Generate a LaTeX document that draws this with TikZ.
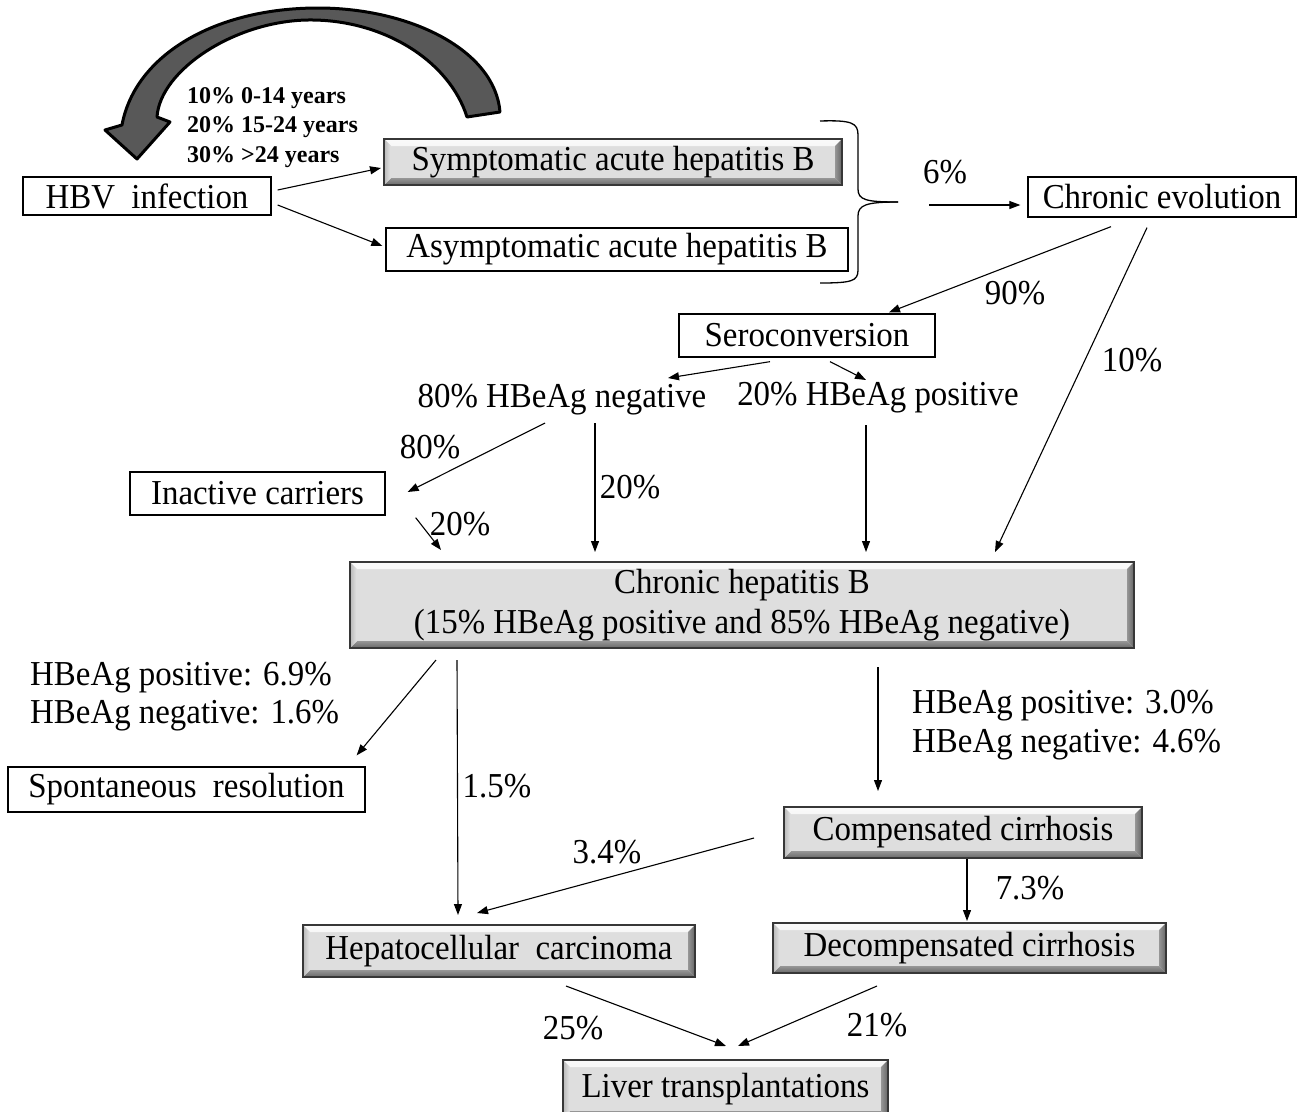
\documentclass[tikz,border=0pt]{standalone}
\usepackage{fontspec}
\setmainfont{Liberation Serif}[FakeStretch=0.94]
\newfontfamily\lblfont{Liberation Serif}[FakeStretch=1.0]
\usetikzlibrary{arrows.meta,calc}
\definecolor{arrgray}{RGB}{88,88,88}
\definecolor{bvmid}{RGB}{222,222,222}
\definecolor{bvline}{RGB}{55,55,55}
\definecolor{bvtopA}{RGB}{250,250,250}
\definecolor{bvtopB}{RGB}{228,228,228}
\definecolor{bvbotA}{RGB}{150,150,150}
\definecolor{bvbotB}{RGB}{105,105,105}
\definecolor{bvlA}{RGB}{185,185,185}
\definecolor{bvlB}{RGB}{228,228,228}
\definecolor{bvrA}{RGB}{150,150,150}
\definecolor{bvrB}{RGB}{100,100,100}
\newcommand\mainsz{\fontsize{35}{40}\selectfont}
\begin{document}
\begin{tikzpicture}[x=1pt,y=-1pt,
  box/.style={draw=black, line width=1.3pt, fill=white, inner sep=0pt, font=\mainsz},
  bev/.style={draw=bvline, line width=2pt, fill=bvmid, inner sep=0pt, font=\mainsz,
    path picture={
      \shade[top color=bvtopA, bottom color=bvtopB]
        (path picture bounding box.north west) -- (path picture bounding box.north east)
        -- ([shift={(-7pt,-7pt)}]path picture bounding box.north east)
        -- ([shift={(7pt,-7pt)}]path picture bounding box.north west) -- cycle;
      \shade[top color=bvbotA, bottom color=bvbotB]
        (path picture bounding box.south west) -- (path picture bounding box.south east)
        -- ([shift={(-7pt,7pt)}]path picture bounding box.south east)
        -- ([shift={(7pt,7pt)}]path picture bounding box.south west) -- cycle;
      \shade[left color=bvlA, right color=bvlB]
        (path picture bounding box.north west) -- ([shift={(7pt,-7pt)}]path picture bounding box.north west)
        -- ([shift={(7pt,7pt)}]path picture bounding box.south west)
        -- (path picture bounding box.south west) -- cycle;
      \shade[left color=bvrA, right color=bvrB]
        (path picture bounding box.north east) -- ([shift={(-7pt,-7pt)}]path picture bounding box.north east)
        -- ([shift={(-7pt,7pt)}]path picture bounding box.south east)
        -- (path picture bounding box.south east) -- cycle;
    }},
  lbl/.style={inner sep=0pt, font=\mainsz},
  arr/.style={line width=1.1pt, -{Triangle[length=11pt,width=8pt]}}
]
\useasboundingbox (0,0) rectangle (1297,1111);

% curved block arrow
\filldraw[fill=arrgray, draw=black, line width=3pt, line join=round]
  (500,112) .. controls (495,50) and (410,8) .. (318,8)
  .. controls (215,8) and (135,55) .. (122,125)
  -- (105,130) -- (137,159) -- (170,122) -- (157,117)
  .. controls (160,70) and (235,21) .. (308,20)
  .. controls (382,19) and (449,60) .. (467,117) -- cycle;

\node[anchor=west, align=left, inner sep=0pt,
  font={\lblfont\bfseries\fontsize{24}{29.5}\selectfont}] (ages) at (187,127.5)
  {10\% 0-14 years\\20\% 15-24 years\\30\% >24 years};

% boxes
\node[box, minimum width=248pt, minimum height=38pt] (hbv) at (147,196) {HBV\ \ infection};
\node[bev, minimum width=458pt, minimum height=46pt] (sym) at (613,162) {Symptomatic acute hepatitis B};
\node[box, minimum width=462pt, minimum height=43pt] (asym) at (617,249.5) {Asymptomatic acute hepatitis B};
\node[box, minimum width=268pt, minimum height=40pt] (chev) at (1162,197) {Chronic evolution};
\node[box, minimum width=256pt, minimum height=43pt] (sero) at (807,335.5) {Seroconversion};
\node[lbl] (neg) at (562,400) {80\% HBeAg negative};
\node[lbl] (pos) at (878,398) {20\% HBeAg positive};
\node[box, minimum width=255pt, minimum height=43pt] (inact) at (257.5,493.5) {Inactive carriers};
\node[bev, minimum width=784pt, minimum height=86pt, align=center] (chb) at (742,605)
  {Chronic hepatitis B\\(15\% HBeAg positive and 85\% HBeAg negative)};
\node[box, minimum width=357pt, minimum height=45pt] (spont) at (186.5,789.5) {Spontaneous\ \ resolution};
\node[bev, minimum width=392pt, minimum height=52pt] (hcc) at (499,951) {Hepatocellular\ \ carcinoma};
\node[bev, minimum width=358pt, minimum height=51pt] (comp) at (963,832.5) {Compensated cirrhosis};
\node[bev, minimum width=393pt, minimum height=50pt] (decomp) at (969.5,948) {Decompensated cirrhosis};
\node[bev, minimum width=325pt, minimum height=58pt] (liver) at (725.5,1089) {\raisebox{5pt}{Liver transplantations}};

% brace
\draw[line width=1.3pt] (820,121) .. controls (852,120) and (858,123) .. (858,135) -- (858,189)
  .. controls (858,200) and (866,202) .. (898,202);
\draw[line width=1.3pt] (898,202) .. controls (866,202) and (858,205) .. (858,216) -- (858,270)
  .. controls (858,281) and (852,283) .. (820,283);
\coordinate (bfrom) at (929,205);

% connectors
\draw[arr] ([shift={(6pt,6pt)}]hbv.east) -- ([shift={(-2pt,-6pt)}]sym.west);
\draw[arr] ([shift={(6pt,-9pt)}]hbv.east) -- ([shift={(-3pt,3.5pt)}]asym.west);
\draw[arr] (bfrom) -- ([shift={(-7pt,-8pt)}]chev.west);
\draw[arr] ([shift={(-51pt,-9pt)}]chev.south) -- ([shift={(82pt,1pt)}]sero.north);
\draw[arr] ([shift={(-15pt,-10pt)}]chev.south) -- ([shift={(253pt,9pt)}]chb.north);
\draw[arr] ([shift={(-37pt,-4pt)}]sero.south) -- ([shift={(106pt,22pt)}]neg.center);
\draw[arr] ([shift={(23pt,-4pt)}]sero.south) -- ([shift={(-12pt,18pt)}]pos.center);
\draw[arr] ([shift={(-17pt,-23pt)}]neg.center) -- ([shift={(22pt,1.5pt)}]inact.east);
\draw[arr] ([shift={(33pt,-23pt)}]neg.center) -- ([shift={(-147pt,9pt)}]chb.north);
\draw[arr] ([shift={(-12pt,-27pt)}]pos.center) -- ([shift={(124pt,9pt)}]chb.north);
\draw[arr] ([shift={(30pt,-2pt)}]inact.south east) -- ([shift={(92pt,11pt)}]chb.north west);
\draw[arr] ([shift={(87pt,-11pt)}]chb.south west) -- ([shift={(-9pt,11pt)}]spont.north east);
\draw[arr] ([shift={(108pt,-11pt)}]chb.south west) -- ([shift={(-41pt,9pt)}]hcc.north);
\draw[arr] ([shift={(136pt,-18pt)}]chb.south) -- ([shift={(-85pt,15pt)}]comp.north);
\draw[arr] ([shift={(-29pt,-5.5pt)}]comp.west) -- ([shift={(-22pt,11pt)}]hcc.north);
\draw[arr] ([shift={(4pt,0pt)}]comp.south) -- ([shift={(-2.5pt,1pt)}]decomp.north);
\draw[arr] ([shift={(67pt,-8pt)}]hcc.south) -- ([shift={(0.5pt,13pt)}]liver.north);
\draw[arr] ([shift={(-92.5pt,-12pt)}]decomp.south) -- ([shift={(12.5pt,13pt)}]liver.north);

% labels
\node[lbl] (l6) at (945,172) {6\%};
\node[lbl] (l90) at (1015,293) {90\%};
\node[lbl] (l10) at (1132,360) {10\%};
\node[lbl] (l80) at (430,447) {80\%};
\node[lbl] (l20a) at (630,487) {20\%};
\node[lbl] (l20b) at (460,524) {20\%};
\node[lbl, anchor=west, align=left, font={\fontsize{35}{38}\selectfont}] (lres) at (30,697)
  {HBeAg positive: 6.9\%\\HBeAg negative: 1.6\%};
\node[lbl] (l15) at (497,786) {1.5\%};
\node[lbl, anchor=west, align=left, font={\fontsize{35}{39}\selectfont}] (lcir) at (912,725.5)
  {HBeAg positive: 3.0\%\\HBeAg negative: 4.6\%};
\node[lbl] (l34) at (607,852) {3.4\%};
\node[lbl] (l73) at (1030,888) {7.3\%};
\node[lbl] (l25) at (573,1028) {25\%};
\node[lbl] (l21) at (877,1025) {21\%};
\end{tikzpicture}
\end{document}
